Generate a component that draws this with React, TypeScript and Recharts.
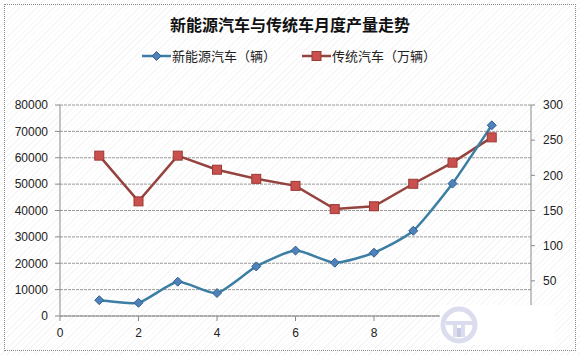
import React from "react";
import { LineChart, Line, XAxis, YAxis, CartesianGrid, Legend } from "recharts";

const months = [1, 2, 3, 4, 5, 6, 7, 8, 9, 10, 11];
const nevUnits = [6000, 5000, 13000, 8700, 18800, 24800, 20200, 24000, 32300, 50200, 72300];
const conventionalWan = [228, 163, 228, 208, 195, 185, 152, 156, 188, 218, 254];

const xTicks = [0, 2, 4, 6, 8, 10, 12];
const leftTicks = [0, 10000, 20000, 30000, 40000, 50000, 60000, 70000, 80000];
const rightTicks = [0, 50, 100, 150, 200, 250, 300];

const title = "新能源汽车与传统车月度产量走势";
const nevName = "新能源汽车（辆）";
const convName = "传统汽车（万辆）";

const data = months.map((m, i) => ({ month: m, nev: nevUnits[i], conv: conventionalWan[i] }));

const BLUE_LINE = "#3C7EA3";
const BLUE_FILL = "#4F81BD";
const BLUE_EDGE = "#2F5F8A";
const RED_LINE = "#94433F";
const RED_FILL = "#C9504C";
const RED_EDGE = "#9A3A36";

// Lightly smoothed line (spreadsheet-style smoothing)
const smoothCurve = (context: any) => {
  let pts: number[][] = [];
  const k = 0.1;
  return {
    areaStart() {},
    areaEnd() {},
    lineStart() {
      pts = [];
    },
    point(x: number, y: number) {
      pts.push([+x, +y]);
    },
    lineEnd() {
      if (!pts.length) return;
      context.moveTo(pts[0][0], pts[0][1]);
      for (let i = 0; i < pts.length - 1; i++) {
        const p0 = pts[i - 1] || pts[i];
        const p1 = pts[i];
        const p2 = pts[i + 1];
        const p3 = pts[i + 2] || p2;
        const c1x = p1[0] + (p2[0] - p0[0]) * k;
        const c1y = p1[1] + (p2[1] - p0[1]) * k;
        const c2x = p2[0] - (p3[0] - p1[0]) * k;
        const c2y = p2[1] - (p3[1] - p1[1]) * k;
        context.bezierCurveTo(c1x, c1y, c2x, c2y, p2[0], p2[1]);
      }
    },
  };
};

const Diamond = (props: any) => {
  const { cx, cy } = props;
  if (cx == null || cy == null) return null;
  const r = 4.5;
  return (
    <path
      d={`M${cx},${cy - r} L${cx + r},${cy} L${cx},${cy + r} L${cx - r},${cy} Z`}
      fill={BLUE_FILL}
      stroke={BLUE_EDGE}
      strokeWidth={1}
    />
  );
};

const Square = (props: any) => {
  const { cx, cy } = props;
  if (cx == null || cy == null) return null;
  const r = 4.5;
  return <rect x={cx - r} y={cy - r} width={2 * r} height={2 * r} fill={RED_FILL} stroke={RED_EDGE} strokeWidth={1} />;
};

const LegendContent = () => (
  <div style={{ position: "relative", width: 580, height: 20, fontFamily: "'Noto Sans CJK SC', sans-serif", fontSize: 13, color: "#222" }}>
    <svg width={30} height={12} style={{ position: "absolute", left: 142, top: 4 }}>
      <line x1={0} y1={6} x2={29} y2={6} stroke={BLUE_LINE} strokeWidth={2.5} />
      <path d="M14.5,1.5 L19,6 L14.5,10.5 L10,6 Z" fill={BLUE_FILL} stroke={BLUE_EDGE} strokeWidth={1} />
    </svg>
    <span style={{ position: "absolute", left: 172, top: 0, whiteSpace: "nowrap" }}>{nevName}</span>
    <svg width={30} height={12} style={{ position: "absolute", left: 302, top: 4 }}>
      <line x1={0} y1={6} x2={29} y2={6} stroke={RED_LINE} strokeWidth={2.5} />
      <rect x={10} y={1.5} width={9} height={9} fill={RED_FILL} stroke={RED_EDGE} strokeWidth={1} />
    </svg>
    <span style={{ position: "absolute", left: 332, top: 0, whiteSpace: "nowrap" }}>{convName}</span>
  </div>
);

const tickStyle = { fontFamily: "'Liberation Sans', Arial, sans-serif", fontSize: 12, fill: "#222" };

export default function App() {
  return (
    <div
      style={{
        position: "absolute",
        left: 0,
        top: 0,
        width: 580,
        height: 355,
        background: "repeating-linear-gradient(135deg, #ffffff 0px, #ffffff 3px, #f6f6f6 3px, #f6f6f6 4px)",
        overflow: "hidden",
      }}
    >
      <div
        style={{
          position: "absolute",
          left: 4,
          top: 4,
          width: 570,
          height: 345,
          border: "1px dotted #8a8a8a",
        }}
      />
      <div
        style={{
          position: "absolute",
          left: 0,
          top: 12,
          width: 580,
          textAlign: "center",
          fontFamily: "'Noto Sans CJK SC', sans-serif",
          fontWeight: 700,
          fontSize: 16,
          color: "#111",
        }}
      >
        {title}
      </div>
      <div style={{ position: "absolute", left: 0, top: 0 }}>
        <LineChart width={580} height={355} data={data} margin={{ top: 85, right: 5, bottom: 9, left: 4 }}>
          <CartesianGrid yAxisId="left" horizontal={true} vertical={false} stroke="#9a9a9a" strokeDasharray="3 1" />
          <XAxis
            dataKey="month"
            type="number"
            domain={[0, 12]}
            ticks={xTicks}
            height={30}
            tickSize={5}
            tickMargin={7}
            stroke="#8a8a8a"
            tick={tickStyle}
            interval={0}
          />
          <YAxis
            yAxisId="left"
            orientation="left"
            domain={[0, 80000]}
            ticks={leftTicks}
            width={56}
            tickSize={5}
            tickMargin={7}
            stroke="#8a8a8a"
            tick={tickStyle}
            interval={0}
          />
          <YAxis
            yAxisId="right"
            orientation="right"
            domain={[0, 300]}
            ticks={rightTicks}
            width={44}
            tickSize={4}
            tickMargin={8}
            stroke="#8a8a8a"
            tick={tickStyle}
            interval={0}
          />
          <Legend verticalAlign="top" wrapperStyle={{ top: 46, left: 0, width: 580 }} content={<LegendContent />} />
          <Line
            yAxisId="right"
            type="linear"
            dataKey="conv"
            name={convName}
            stroke={RED_LINE}
            strokeWidth={2.5}
            dot={<Square />}
            isAnimationActive={false}
          />
          <Line
            yAxisId="left"
            type={smoothCurve as any}
            dataKey="nev"
            name={nevName}
            stroke={BLUE_LINE}
            strokeWidth={2.5}
            dot={<Diamond />}
            isAnimationActive={false}
          />
        </LineChart>
      </div>
      <div style={{ position: "absolute", left: 440, top: 305, width: 115, height: 40, background: "#ffffff" }}>
        <svg width={40} height={40} style={{ position: "absolute", left: 0, top: 0 }}>
          <circle cx={19} cy={20} r={16} fill="none" stroke="#dcdcef" strokeWidth={5} />
          <rect x={6} y={16} width={27} height={4} fill="#dcdcef" />
          <rect x={13} y={20} width={4} height={12} fill="#dcdcef" />
          <rect x={21} y={20} width={4} height={12} fill="#dcdcef" />
          <rect x={17} y={23} width={4} height={9} fill="#c8c8e2" />
        </svg>
      </div>
    </div>
  );
}
